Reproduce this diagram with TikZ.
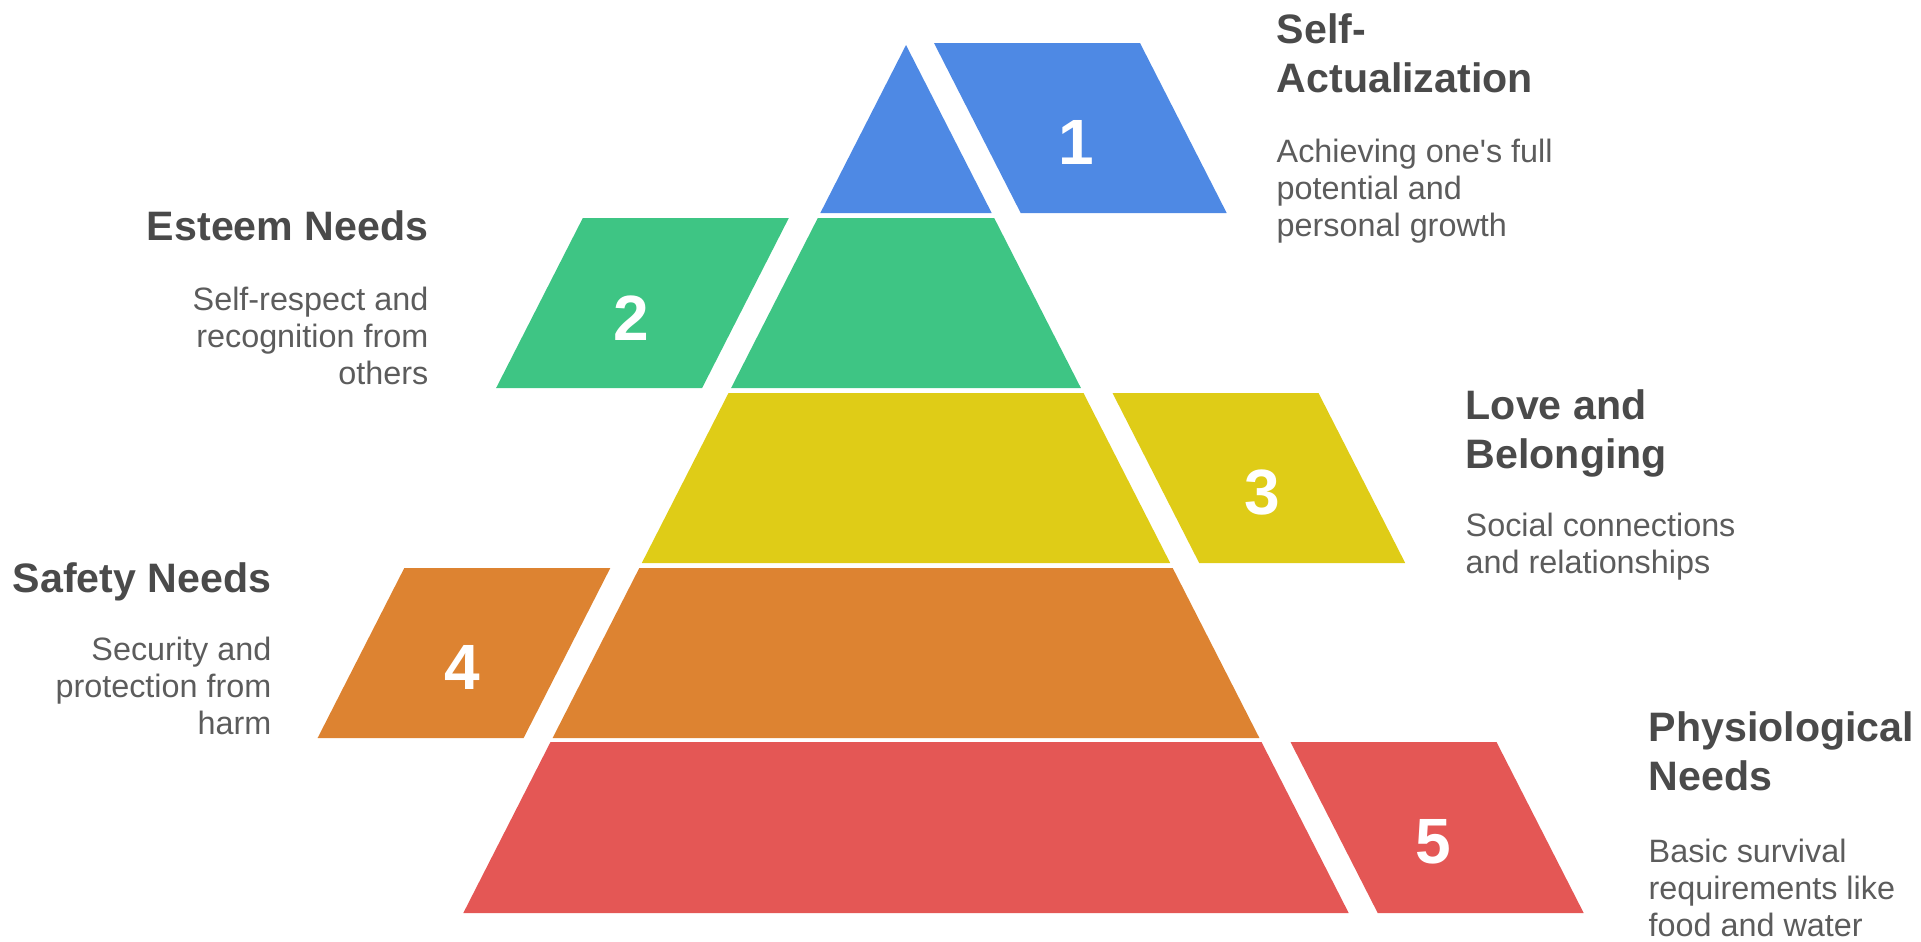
\documentclass[tikz,border=0pt]{standalone}
\usepackage{fontspec}
\setmainfont{Liberation Sans}
\usepackage{xcolor}
\usetikzlibrary{positioning}
\definecolor{lvlblue}{HTML}{4E89E4}
\definecolor{lvlgreen}{HTML}{3EC584}
\definecolor{lvlyellow}{HTML}{DFCC17}
\definecolor{lvlorange}{HTML}{DD8331}
\definecolor{lvlred}{HTML}{E45755}
\definecolor{headgray}{HTML}{4A4A4A}
\definecolor{descgray}{HTML}{5C5C5C}

\begin{document}
\begin{tikzpicture}[x=0.01cm, y=-0.01cm,
    headtext/.style={inner sep=0pt, text=headgray, font=\fontsize{11.7}{13.9}\selectfont\bfseries},
    desctext/.style={inner sep=0pt, text=descgray, font=\fontsize{9.2}{10.5}\selectfont},
    stepnum/.style={inner sep=0pt, text=white, font=\fontsize{18.2}{20}\selectfont\bfseries}]
    \useasboundingbox (0,0) rectangle (1921,941);
    % pyramid levels
    \fill[lvlblue] (906,45) -- (820.3,213) -- (991.7,213) -- cycle;
    \fill[lvlgreen] (817.8,218) -- (994.2,218) -- (1080.9,388) -- (731.1,388) -- cycle;
    \fill[lvlyellow] (728.5,393) -- (1083.5,393) -- (1170.2,563) -- (641.8,563) -- cycle;
    \fill[lvlorange] (639.3,568) -- (1172.7,568) -- (1259.4,738) -- (552.6,738) -- cycle;
    \fill[lvlred] (550.5,742) -- (1261.5,742) -- (1348.7,913) -- (463.3,913) -- cycle;
    % numbered tabs
    \fill[lvlblue] (934,43) -- (1140,43) -- (1226.7,213) -- (1020.7,213) -- cycle;
    \fill[lvlgreen] (582.8,218) -- (788.8,218) -- (702.1,388) -- (496.1,388) -- cycle;
    \fill[lvlyellow] (1112.5,393) -- (1318.5,393) -- (1405.2,563) -- (1199.2,563) -- cycle;
    \fill[lvlorange] (404.3,568) -- (610.3,568) -- (523.6,738) -- (317.6,738) -- cycle;
    \fill[lvlred] (1290.5,742) -- (1496.5,742) -- (1583.7,913) -- (1377.7,913) -- cycle;
    \node[stepnum] (num1) at (1076,142) {1};
    \node[stepnum] (num2) at (631,318) {2};
    \node[stepnum] (num3) at (1262,492) {3};
    \node[stepnum] (num4) at (462,667) {4};
    \node[stepnum] (num5) at (1433,842) {5};
    % labels (base = last line)
    \node[headtext, anchor=base west, align=left] (selfhead) at (1276,92) {Self-\\Actualization};
    \node[desctext, anchor=base west, align=left] (selfdesc) at (1276,236) {Achieving one\textquotesingle s full\\potential and\\personal growth};
    \node[headtext, anchor=base east, align=right] (esteemhead) at (429,240) {Esteem Needs};
    \node[desctext, anchor=base east, align=right] (esteemdesc) at (429,384) {Self-respect and\\recognition from\\others};
    \node[headtext, anchor=base west, align=left] (lovehead) at (1465,468) {Love and\\Belonging};
    \node[desctext, anchor=base west, align=left] (lovedesc) at (1465,573) {Social connections\\and relationships};
    \node[headtext, anchor=base east, align=right] (safetyhead) at (272,592) {Safety Needs};
    \node[desctext, anchor=base east, align=right] (safetydesc) at (272,734) {Security and\\protection from\\harm};
    \node[headtext, anchor=base west, align=left] (physhead) at (1648,790) {Physiological\\Needs};
    \node[desctext, anchor=base west, align=left] (physdesc) at (1648,936) {Basic survival\\requirements like\\food and water};
\end{tikzpicture}
\end{document}
